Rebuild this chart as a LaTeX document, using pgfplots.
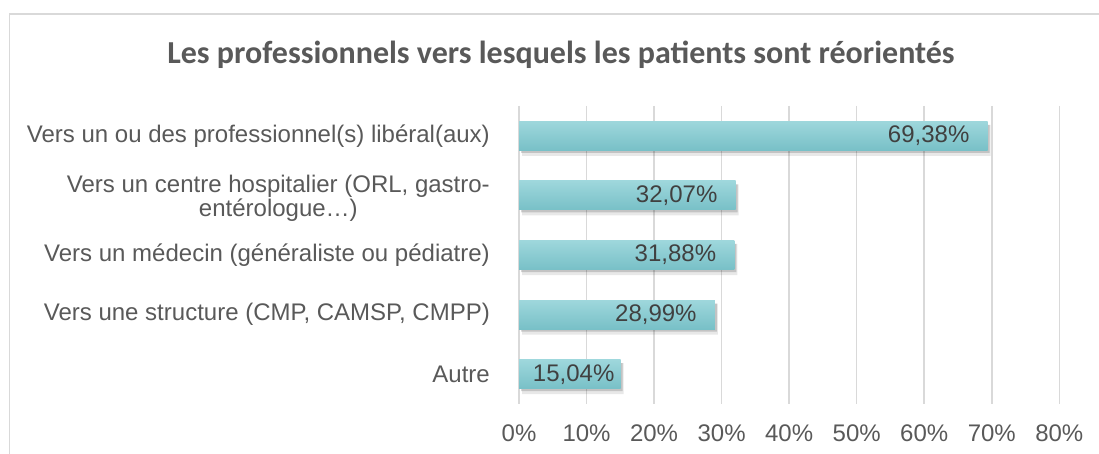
\documentclass[border=0pt]{standalone}
\usepackage{fontspec}
\setmainfont{Liberation Sans}
\newfontfamily\titlefont{Carlito}
\usepackage{pgfplots}
\pgfplotsset{compat=1.18}
\definecolor{txt}{HTML}{595959}
\definecolor{dlab}{HTML}{404040}
\definecolor{gridc}{HTML}{D9D9D9}
\definecolor{bartop}{HTML}{9ED7DC}
\definecolor{barbot}{HTML}{78C0C7}
\newcommand\hosplabel{Vers un centre hospitalier (ORL, gastro-\\entérologue…)}
\pgfplotsset{
  mybar/.style={draw=none, top color=bartop, bottom color=barbot, bar shift=0pt,
    point meta=x,
    nodes near coords={\pgfmathprintnumber[fixed,fixed zerofill,precision=2,use comma,assume math mode=true]{\pgfplotspointmeta}\%},
    every node near coord/.append style={anchor=east, inner sep=0pt, xshift=-#1, text=dlab, font=\fontsize{24}{27}\selectfont, fill opacity=1, text opacity=1}},
  mybar/.default=18pt,
}
\begin{document}
\begin{tikzpicture}
\path[use as bounding box] (0pt,0pt) rectangle (1099pt,454pt);
\draw[gridc, line width=1.5pt] (9.5pt,-20pt) -- (9.5pt,440pt) -- (1120pt,440pt);
\node[anchor=base, text=txt, font=\titlefont\bfseries\fontsize{32}{36}\selectfont] at (561pt,390pt) {Les professionnels vers lesquels les patients sont réorientés};
\begin{axis}[
  at={(519pt,50pt)}, anchor=south west,
  scale only axis, width=540.3pt, height=298pt,
  xbar, bar width=29pt, bar shift=0pt,
  xmin=0, xmax=80, ymin=-0.5, ymax=4.5,
  y dir=reverse,
  xtick={0,10,...,80},
  xticklabels={0\%,10\%,20\%,30\%,40\%,50\%,60\%,70\%,80\%},
  ytick={0,2,3,4},
  yticklabels={{Vers un ou des professionnel(s) libéral(aux)},{Vers un médecin (généraliste ou pédiatre)},{Vers une structure (CMP, CAMSP, CMPP)},{Autre}},
  extra y ticks={1},
  extra y tick labels={\hosplabel},
  extra y tick style={yticklabel style={yshift=-3pt}},
  axis line style={draw=none},
  major tick length=0pt,
  xmajorgrids, ymajorgrids=false,
  major grid style={gridc, line width=1.5pt},
  xticklabel style={font=\fontsize{24}{27}\selectfont, text=txt, anchor=base, inner sep=0pt, yshift=-37.7pt},
  yticklabel style={font=\fontsize{24}{24.5}\selectfont, text=txt, align=center, anchor=east, inner sep=0pt, xshift=-29pt},
  clip=false,
]
\addplot[draw=none, fill=black, fill opacity=0.09, bar shift=0pt, bar width=31pt, xshift=3pt, yshift=-4.5pt, forget plot]
  coordinates {(69.38,0) (32.07,1) (31.88,2) (28.99,3) (15.04,4)};
\addplot[draw=none, fill=black, fill opacity=0.16, bar shift=0pt, bar width=28pt, xshift=2pt, yshift=-3pt, forget plot]
  coordinates {(69.38,0) (32.07,1) (31.88,2) (28.99,3) (15.04,4)};
\addplot[mybar] coordinates {(69.38,0)};
\addplot[mybar] coordinates {(32.07,1)};
\addplot[mybar] coordinates {(31.88,2)};
\addplot[mybar] coordinates {(28.99,3)};
\addplot[mybar=6pt] coordinates {(15.04,4)};
\end{axis}
\end{tikzpicture}
\end{document}
